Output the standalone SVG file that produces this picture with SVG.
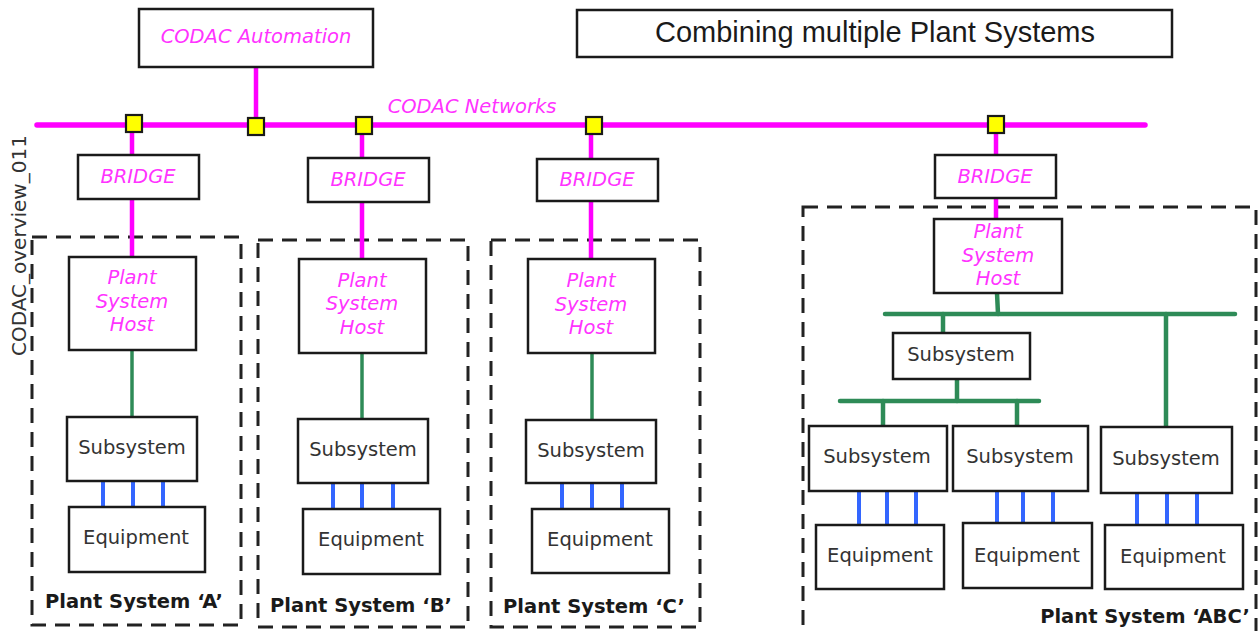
<svg xmlns="http://www.w3.org/2000/svg" width="1258" height="631" viewBox="0 0 1258 631">
  <style>
    .box { fill: #ffffff; stroke: #1a1a1a; stroke-width: 2.5; }
    .group { fill: none; stroke: #222222; stroke-width: 3; stroke-dasharray: 15 9; }
    .port { fill: #ffff00; stroke: #1a1a1a; stroke-width: 2.2; }
    .net { stroke: #ff00ff; stroke-width: 4.5; fill: none; }
    .bus { stroke: #ff00ff; stroke-width: 5.5; fill: none; stroke-linecap: round; }
    .ctl { stroke: #2e8b57; stroke-width: 3.5; fill: none; }
    .ctlbus { stroke: #2e8b57; stroke-width: 4.5; fill: none; stroke-linecap: round; }
    .io { stroke: #3366ff; stroke-width: 4; fill: none; }
    .mag { font-family: "DejaVu Sans", Verdana, sans-serif; font-style: italic; font-size: 19.5px; fill: #ff33ff; text-anchor: middle; }
    .lbl { font-family: "DejaVu Sans", Verdana, sans-serif; font-size: 19.5px; fill: #333333; text-anchor: middle; }
    .ps { font-family: "DejaVu Sans", Verdana, sans-serif; font-weight: bold; font-size: 19.5px; fill: #1a1a1a; text-anchor: middle; }
    .title { font-family: "Liberation Sans", Arial, sans-serif; font-size: 29px; fill: #1a1a1a; text-anchor: middle; }
    .ref { font-family: "DejaVu Sans", Verdana, sans-serif; font-size: 20px; fill: #333333; }
  </style>

  <!-- plant system groupings (dashed) -->
  <g id="group-A"><rect class="group" x="32" y="237" width="209" height="388"/><text class="ps" x="134" y="608">Plant System ‘A’</text></g>
  <g id="group-B"><rect class="group" x="258" y="240" width="210" height="387"/><text class="ps" x="361" y="612">Plant System ‘B’</text></g>
  <g id="group-C"><rect class="group" x="491" y="240" width="209" height="387"/><text class="ps" x="594" y="613">Plant System ‘C’</text></g>
  <g id="group-ABC"><rect class="group" x="803" y="207" width="453" height="440"/><text class="ps" x="1145" y="623">Plant System ‘ABC’</text></g>

  <!-- connectors -->
  <g id="connectors">
    <!-- CODAC network bus and drops -->
    <line class="bus" x1="37" y1="125" x2="1145" y2="125"/>
    <line class="net" x1="256" y1="67" x2="256" y2="125"/>
    <line class="net" x1="132" y1="125" x2="132" y2="257"/>
    <line class="net" x1="362" y1="125" x2="362" y2="259"/>
    <line class="net" x1="591" y1="125" x2="591" y2="259"/>
    <line class="net" x1="996" y1="125" x2="996" y2="219"/>

    <!-- control links -->
    <line class="ctl" x1="132" y1="350" x2="132" y2="417"/>
    <line class="ctl" x1="362" y1="353" x2="362" y2="419"/>
    <line class="ctl" x1="592" y1="353" x2="592" y2="420"/>
    <line class="ctlbus" x1="997" y1="293" x2="998" y2="314"/>
    <line class="ctlbus" x1="885" y1="314" x2="1235" y2="314"/>
    <line class="ctlbus" x1="943" y1="314" x2="943" y2="333"/>
    <line class="ctlbus" x1="1166" y1="314" x2="1166" y2="427"/>
    <line class="ctlbus" x1="957" y1="379" x2="957" y2="401"/>
    <line class="ctlbus" x1="840" y1="401" x2="1039" y2="401"/>
    <line class="ctlbus" x1="883" y1="401" x2="883" y2="426"/>
    <line class="ctlbus" x1="1017" y1="401" x2="1017" y2="426"/>

    <!-- equipment I/O links -->
    <line class="io" x1="103" y1="481" x2="103" y2="507"/>
    <line class="io" x1="133" y1="481" x2="133" y2="507"/>
    <line class="io" x1="163" y1="481" x2="163" y2="507"/>
    <line class="io" x1="333" y1="483" x2="333" y2="509"/>
    <line class="io" x1="362" y1="483" x2="362" y2="509"/>
    <line class="io" x1="393" y1="483" x2="393" y2="509"/>
    <line class="io" x1="562" y1="483" x2="562" y2="509"/>
    <line class="io" x1="592" y1="483" x2="592" y2="509"/>
    <line class="io" x1="622" y1="483" x2="622" y2="509"/>
    <line class="io" x1="859" y1="491" x2="859" y2="525"/>
    <line class="io" x1="887" y1="491" x2="887" y2="525"/>
    <line class="io" x1="916" y1="491" x2="916" y2="525"/>
    <line class="io" x1="997" y1="491" x2="997" y2="523"/>
    <line class="io" x1="1023" y1="491" x2="1023" y2="523"/>
    <line class="io" x1="1053" y1="491" x2="1053" y2="523"/>
    <line class="io" x1="1137" y1="493" x2="1137" y2="525"/>
    <line class="io" x1="1167" y1="493" x2="1167" y2="525"/>
    <line class="io" x1="1197" y1="493" x2="1197" y2="525"/>
  </g>

  <!-- network ports -->
  <g id="ports">
    <rect class="port" x="126" y="115" width="16" height="17"/>
    <rect class="port" x="248" y="118" width="16" height="17"/>
    <rect class="port" x="356" y="117" width="16" height="17"/>
    <rect class="port" x="586" y="117" width="16" height="17"/>
    <rect class="port" x="988" y="116" width="16" height="17"/>
  </g>

  <!-- header -->
  <g id="title"><rect class="box" x="577" y="10" width="595" height="47"/><text class="title" x="875" y="42">Combining multiple Plant Systems</text></g>
  <g id="codac-automation"><rect class="box" x="139" y="9" width="234" height="58"/><text class="mag" x="256" y="43">CODAC Automation</text></g>
  <g id="codac-networks"><text class="mag" x="472" y="113">CODAC Networks</text></g>
  <g id="drawing-ref"><text class="ref" transform="translate(26,356) rotate(-90)">CODAC_overview_011</text></g>

  <!-- bridges -->
  <g id="bridge-A"><rect class="box" x="78" y="155" width="121" height="44"/><text class="mag" x="138" y="183">BRIDGE</text></g>
  <g id="bridge-B"><rect class="box" x="308" y="158" width="121" height="44"/><text class="mag" x="368" y="186">BRIDGE</text></g>
  <g id="bridge-C"><rect class="box" x="537" y="159" width="121" height="42"/><text class="mag" x="597" y="186">BRIDGE</text></g>
  <g id="bridge-ABC"><rect class="box" x="935" y="155" width="121" height="43"/><text class="mag" x="995" y="183">BRIDGE</text></g>

  <!-- plant system hosts -->
  <g id="host-A"><rect class="box" x="69" y="257" width="127" height="93"/><text class="mag" x="132" y="284">Plant</text><text class="mag" x="132" y="308">System</text><text class="mag" x="132" y="331">Host</text></g>
  <g id="host-B"><rect class="box" x="299" y="259" width="127" height="94"/><text class="mag" x="362" y="287">Plant</text><text class="mag" x="362" y="310">System</text><text class="mag" x="362" y="334">Host</text></g>
  <g id="host-C"><rect class="box" x="528" y="259" width="127" height="94"/><text class="mag" x="591" y="287">Plant</text><text class="mag" x="591" y="311">System</text><text class="mag" x="591" y="334">Host</text></g>
  <g id="host-ABC"><rect class="box" x="934" y="219" width="128" height="74"/><text class="mag" x="998" y="238">Plant</text><text class="mag" x="998" y="262">System</text><text class="mag" x="998" y="285">Host</text></g>

  <!-- subsystems -->
  <g id="sub-A"><rect class="box" x="67" y="417" width="130" height="64"/><text class="lbl" x="132" y="454">Subsystem</text></g>
  <g id="sub-B"><rect class="box" x="298" y="419" width="130" height="64"/><text class="lbl" x="363" y="456">Subsystem</text></g>
  <g id="sub-C"><rect class="box" x="526" y="420" width="130" height="63"/><text class="lbl" x="591" y="457">Subsystem</text></g>
  <g id="sub-ABC-1"><rect class="box" x="893" y="333" width="137" height="46"/><text class="lbl" x="961" y="361">Subsystem</text></g>
  <g id="sub-ABC-2"><rect class="box" x="809" y="426" width="138" height="65"/><text class="lbl" x="877" y="463">Subsystem</text></g>
  <g id="sub-ABC-3"><rect class="box" x="953" y="426" width="135" height="65"/><text class="lbl" x="1020" y="463">Subsystem</text></g>
  <g id="sub-ABC-4"><rect class="box" x="1101" y="427" width="131" height="66"/><text class="lbl" x="1166" y="465">Subsystem</text></g>

  <!-- equipment -->
  <g id="equip-A"><rect class="box" x="69" y="507" width="136" height="65"/><text class="lbl" x="136" y="544">Equipment</text></g>
  <g id="equip-B"><rect class="box" x="303" y="509" width="137" height="65"/><text class="lbl" x="371" y="546">Equipment</text></g>
  <g id="equip-C"><rect class="box" x="532" y="509" width="137" height="64"/><text class="lbl" x="600" y="546">Equipment</text></g>
  <g id="equip-ABC-1"><rect class="box" x="816" y="525" width="128" height="64"/><text class="lbl" x="880" y="562">Equipment</text></g>
  <g id="equip-ABC-2"><rect class="box" x="963" y="523" width="129" height="65"/><text class="lbl" x="1027" y="562">Equipment</text></g>
  <g id="equip-ABC-3"><rect class="box" x="1105" y="525" width="138" height="64"/><text class="lbl" x="1173" y="563">Equipment</text></g>
</svg>
